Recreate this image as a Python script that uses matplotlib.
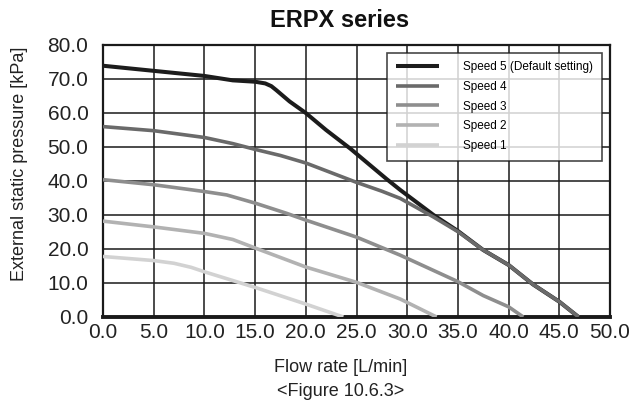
import numpy as np
from matplotlib import pyplot as plt

plt.rcParams['font.family'] = ['Liberation Sans', 'DejaVu Sans']

# curves (flow L/min, pressure kPa)
s5_x = [0, 5, 10, 12.8, 15, 16, 16.6, 17.1, 18.4, 20, 22, 24.4, 28, 29.3, 32.6, 35, 37.5, 40, 42.4, 45, 46.9]
s5_y = [73.9, 72.4, 70.9, 69.6, 69.2, 68.7, 67.9, 66.7, 63.4, 60.0, 55.0, 49.5, 40.5, 37.4, 30.0, 25.3, 19.7, 15.3, 9.6, 4.5, 0]
s4_x = [0, 5, 10, 12.8, 15, 17.5, 20, 25, 27.5, 29.3, 32.6, 35, 37.5, 40, 42.4, 45, 46.9]
s4_y = [56, 54.8, 52.8, 51.0, 49.3, 47.5, 45.3, 39.6, 37.0, 34.9, 29.4, 25.1, 19.7, 15.3, 9.6, 4.5, 0]
s3_x = [0, 5, 10, 12.2, 15, 18.1, 20, 25, 29.3, 35, 37.5, 40, 41.45]
s3_y = [40.4, 38.9, 36.9, 35.9, 33.5, 30.5, 28.5, 23.5, 18.2, 10.4, 6.3, 3.0, 0]
s2_x = [0, 5, 10, 12.8, 15, 20, 25, 29.3, 32.9]
s2_y = [28.2, 26.5, 24.6, 22.8, 20.3, 14.7, 10.2, 5.3, 0]
s1_x = [0, 5, 7, 8.7, 10, 15, 20, 23.7]
s1_y = [17.8, 16.6, 15.8, 14.6, 13.3, 8.7, 3.8, 0]

labels = ["Speed 5 (Default setting)", "Speed 4", "Speed 3", "Speed 2", "Speed 1"]
colors = ["#1c1c1c", "#6a6a6a", "#8e8e8e", "#b2b2b2", "#d2d2d2"]
widths = [2.9, 2.6, 2.6, 2.6, 2.6]
xticks = np.arange(0, 50.1, 5)
yticks = np.arange(0, 80.1, 10)

fig = plt.figure(figsize=(6.39, 4.0), dpi=100)
ax = fig.add_axes([103/639, 83/400, 507/639, 272/400])

series = [(s5_x, s5_y), (s4_x, s4_y), (s3_x, s3_y), (s2_x, s2_y), (s1_x, s1_y)]
for (xs, ys), lab, c, w, z in zip(series, labels, colors, widths, [3, 4, 4, 4, 4]):
  ax.plot(xs, ys, color=c, lw=w, label=lab, zorder=z,
          solid_capstyle='butt', solid_joinstyle='round')

ax.set_xlim(0, 50)
ax.set_ylim(0, 80)
ax.set_xticks(xticks)
ax.set_yticks(yticks)
ax.set_xticklabels(["%.1f" % v for v in xticks], fontsize=15)
ax.set_yticklabels(["%.1f" % v for v in yticks], fontsize=15)
ax.tick_params(axis='x', length=0, pad=4, colors="#222222")
ax.tick_params(axis='y', length=0, pad=10.5, colors="#222222")
ax.grid(True, color="#1a1a1a", lw=1.1, zorder=1)
for sp in ax.spines.values():
  sp.set_linewidth(1.6)
  sp.set_color("#1a1a1a")
ax.spines['bottom'].set_linewidth(2.8)

fig.text(340/639, 1 - 27/400, "ERPX series", ha="center", va="baseline",
         fontsize=17, fontweight="bold", color="#111111")
fig.text(19.5/639, 1 - 163.5/400, "External static pressure [kPa]", rotation=90,
         ha="center", va="center", fontsize=13, color="#222222")
fig.text(341/639, 1 - 372/400, "Flow rate [L/min]", ha="center", va="baseline",
         fontsize=13, color="#222222")
fig.text(341/639, 1 - 396/400, "<Figure 10.6.3>", ha="center", va="baseline",
         fontsize=13, color="#222222")

leg = ax.legend(loc="upper right", bbox_to_anchor=(0.984, 0.972), borderaxespad=0,
                fontsize=8.5, frameon=True, fancybox=False, handlelength=3.65,
                handletextpad=2.0, borderpad=0.75, labelspacing=0.64)
leg.get_frame().set_edgecolor("#1a1a1a")
leg.get_frame().set_linewidth(1.2)
leg.set_zorder(10)

fig.savefig("out.png", dpi=100)
